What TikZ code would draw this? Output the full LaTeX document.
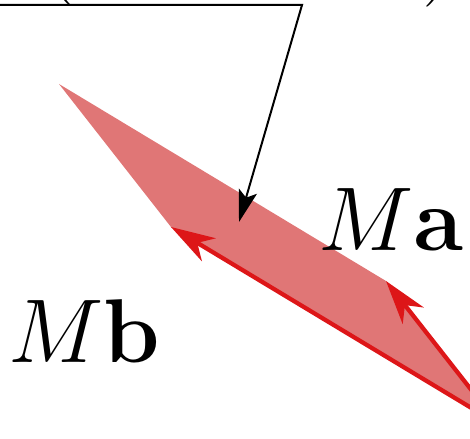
\documentclass[tikz,border=0pt]{standalone}
\usepackage{graphicx}
\usetikzlibrary{arrows.meta}
\definecolor{fillred}{RGB}{224,118,118}
\definecolor{linered}{RGB}{221,22,24}
\newcommand{\bigtxt}[1]{\scalebox{2.73}{\Huge #1}}
\begin{document}
\begin{tikzpicture}[x=0.75pt,y=-0.75pt,
  vec/.style={draw=linered, line width=3.2pt, -{Stealth[length=33pt,width=20pt,inset=10pt]}},
  ptr/.style={draw=black, line width=1.5pt, -{Stealth[length=24pt,width=14pt,inset=5pt]}},
  lbl/.style={inner sep=0pt}]
\useasboundingbox (0,0) rectangle (470,438);
\clip (0,0) rectangle (470,438);
\coordinate (O) at (498,424);
\coordinate (A) at (386,281);
\coordinate (B) at (171,227);
\coordinate (D) at (59,84);
\fill[fillred] (O) -- (A) -- (D) -- (B) -- cycle;
\draw[vec] (O) -- (A);
\draw[vec] (O) -- (B);
\coordinate (L) at (-20,5);
\coordinate (K) at (302,5);
\coordinate (T) at (239,222);
\draw[ptr] (L) -- (K) -- (T);
\node[lbl, anchor=base west] (ma) at (318,250) {\bigtxt{$M\mathbf{a}$}};
\node[lbl, anchor=base west] (mb) at (8,362) {\bigtxt{$M\mathbf{b}$}};
\node[lbl, anchor=south] (lp) at (60,6) {\bigtxt{(}};
\node[lbl, anchor=south] (rp) at (439,7) {\bigtxt{)}};
\end{tikzpicture}
\end{document}
